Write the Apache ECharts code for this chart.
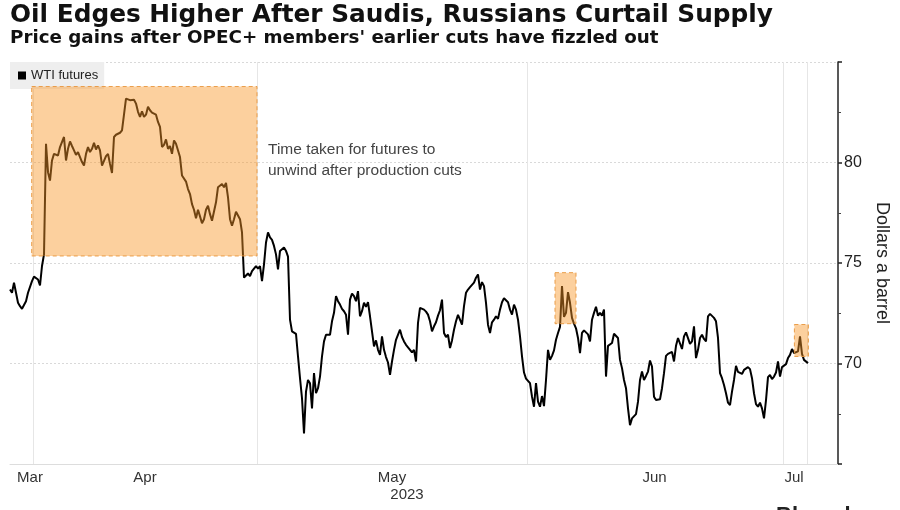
<!DOCTYPE html>
<html>
<head>
<meta charset="utf-8">
<script src="https://cdn.jsdelivr.net/npm/echarts@6.0.0/dist/echarts.min.js"></script>
<style>
html,body{margin:0;padding:0;background:#fff;}
#chart{width:900px;height:510px;}
</style>
</head>
<body>
<div id="chart"></div>
<script>
// WTI futures price, sampled at equal intraday steps (x = sample number)
const wtiPrice = [
  73.68,73.52,74.02,73.93,73.02,72.85,72.72,72.77,73.1,73.52,73.43,74.1,74.32,74.27,74.18,73.88,74.85,75.43,
  80.93,79.52,79.1,80.1,80.43,80.52,80.35,80.77,80.72,81.27,80.1,80.68,81.05,80.82,80.6,80.38,80.52,80.27,
  80.02,79.85,80.43,80.77,80.52,80.68,80.98,80.65,80.85,80.6,79.85,79.88,80.32,80.43,79.93,79.48,
  81.27,81.38,81.43,81.48,81.6,81.55,83.18,83.27,83.1,83.18,83.12,82.93,82.52,82.27,82.55,82.27,82.38,82.77,
  82.6,82.48,82.55,82.38,82.02,81.77,80.77,80.88,81.15,80.68,80.82,80.43,81.1,80.93,80.85,80.27,79.35,79.27,
  79.05,78.68,78.43,77.93,77.65,77.22,77.65,77.32,76.98,77.18,77.65,77.85,77.43,77.1,
  77.18,78.02,78.77,78.77,78.93,78.77,78.98,78.27,77.18,76.85,77.18,77.55,77.55,77.18,76.52,
  74.27,74.38,74.48,74.35,74.6,74.65,74.85,74.72,74.85,74.1,74.93,76.02,76.52,76.27,76.15,75.85,75.43,74.68,
  75.6,75.68,75.77,75.6,75.32,
  72.18,71.6,71.52,71.47,70.35,69.27,68.27,66.52,68.6,69.18,69.02,67.77,69.52,68.52,68.77,69.35,70.35,71.1,
  71.43,71.35,71.43,72.1,72.52,73.35,73.1,72.93,72.72,72.6,72.43,71.43,73.18,73.48,73.35,73.1,73.6,72.35,
  72.6,73.02,72.82,73.05,72.35,71.6,70.85,71.15,70.68,70.43,71.35,70.68,70.32,70.05,69.43,70.1,70.68,71.18,
  71.22,71.68,71.32,71.1,70.93,70.85,70.68,
  70.55,70.68,70.1,72.02,72.77,72.8,72.68,72.58,72.43,72.1,71.6,71.85,72.05,72.38,72.65,73.18,71.52,71.32,
  71.43,70.77,71.15,71.68,72.1,72.42,72.18,71.93,72.85,73.52,73.68,73.8,73.75,74.02,74.27,74.43,73.68,74.05,
  73.85,73.02,71.93,71.52,72.05,72.18,72.35,72.22,72.68,73.05,73.25,73.25,73.05,72.68,72.43,72.93,72.68,72.18,
  71.35,70.35,69.55,69.25,69.32,69.02,68.35,67.85,69.02,68.1,67.85,68.38,67.88,69.18,70.68,70.18,70.38,70.65,
  71.18,71.52,71.82,73.85,72.32,72.52,73.55,73.02,72.27,71.98,71.75,71.27,70.52,71.52,71.65,71.55,71.45,71.1,
  72.18,72.52,72.82,72.38,72.52,72.38,72.68,69.35,70.88,70.85,
  71.02,71.48,71.55,71.27,70.18,69.77,69.18,68.77,67.77,66.93,67.27,67.35,67.48,68.1,69.18,69.6,69.18,69.38,
  69.6,70.15,69.85,68.35,68.18,68.22,68.22,68.77,69.52,70.38,70.48,70.48,70.58,70.1,70.88,71.27,71.35,70.72,
  71.35,71.55,71.6,70.98,71.1,71.85,70.27,70.68,71.27,71.43,71.22,71.1,72.35,72.47,72.38,72.27,72.1,71.27,
  69.52,69.27,68.93,68.52,68.05,67.93,68.6,69.18,69.88,69.58,69.52,69.48,69.68,69.6,69.82,69.72,69.27,68.52,
  67.98,67.85,68.05,67.77,67.27,68.18,69.32,69.43,69.22,69.35,69.55,70.1,69.35,69.82,69.77,69.97,70.27,70.43,
  70.72,70.52,70.52,70.6,71.35,70.48,70.18,70.1,70.02
];

// x axis (in sample numbers)
const xMax = 414;
const monthStartAt = [11.5, 123.5, 258.5, 386.5, 398.5];
const monthLabelAt = [10, 67.5, 191, 322.25, 392];
const monthNames = ['Mar', 'Apr', 'May', 'Jun', 'Jul'];
const yearLabelMonth = 'May';
const yearText = '2023';

// y axis
const yMin = 65, yMax = 85, yStep = 5;

// shaded periods
const shadeFrom = [10.85, 272.5, 392.2];
const shadeTo   = [123.5, 283, 399.2];
const shadeLow  = [75.35, 71.98, 70.35];
const shadeHigh = [83.78, 74.52, 71.94];

const seriesName = 'WTI futures';
const titleText = 'Oil Edges Higher After Saudis, Russians Curtail Supply';
const subtitleText = "Price gains after OPEC+ members' earlier cuts have fizzled out";
const noteText = 'Time taken for futures to\nunwind after production cuts';
const yName = 'Dollars a barrel';

const chart = echarts.init(document.getElementById('chart'), null, {renderer: 'canvas'});
const sansFont = '"Liberation Sans", Arial, sans-serif';
const titleFont = '"DejaVu Sans", Verdana, sans-serif';

const option = {
  backgroundColor: '#ffffff',
  animation: false,
  title: [
    {text: titleText, left: 10, top: 3, padding: 0,
     textStyle: {fontFamily: titleFont, fontWeight: 'bold', fontSize: 24.8, color: '#111'}},
    {text: subtitleText, left: 10, top: 29, padding: 0,
     textStyle: {fontFamily: titleFont, fontWeight: 'bold', fontSize: 18.3, color: '#111'}}
  ],
  legend: {
    data: [seriesName], left: 10, top: 62, padding: [7, 6, 7, 8],
    backgroundColor: '#eeeeee', icon: 'rect', itemWidth: 8, itemHeight: 8,
    textStyle: {fontFamily: sansFont, fontSize: 13, color: '#222'},
    selectedMode: false
  },
  grid: {left: 10, right: 62, top: 62, bottom: 46, containLabel: false},
  xAxis: {
    type: 'value', min: 0, max: xMax,
    axisLine: {show: true, onZero: false, lineStyle: {color: '#dddddd', width: 1}},
    axisTick: {show: false, customValues: monthStartAt},
    splitLine: {show: true, lineStyle: {color: '#e6e6e6', width: 1}},
    axisLabel: {
      customValues: monthLabelAt, margin: 5,
      formatter: function (v) {
        const k = monthLabelAt.indexOf(v);
        const n = monthNames[k];
        return n === yearLabelMonth ? '{m|' + n + '}\n{y|' + yearText + '}' : '{m|' + n + '}';
      },
      rich: {
        m: {fontFamily: sansFont, fontSize: 15, color: '#333', lineHeight: 17},
        y: {fontFamily: sansFont, fontSize: 15, color: '#333', lineHeight: 17, padding: [0, 0, 0, 30]}
      }
    }
  },
  yAxis: {
    type: 'value', position: 'right', min: yMin, max: yMax, interval: yStep,
    axisLine: {show: true, onZero: false, lineStyle: {color: '#222', width: 1.5}},
    axisTick: {show: true, inside: false, length: 4, lineStyle: {color: '#222', width: 1.5}},
    minorTick: {show: true, splitNumber: 2, length: 3, lineStyle: {color: '#444', width: 1}},
    splitLine: {show: true, lineStyle: {color: '#d9d9d9', type: [2, 2], width: 1}},
    axisLabel: {
      margin: 6, fontFamily: sansFont, fontSize: 16, color: '#222',
      formatter: function (v) { return (v === yMin || v === yMax) ? '' : String(v); }
    },
    name: yName, nameLocation: 'middle', nameRotate: -90, nameGap: 19,
    nameTextStyle: {fontFamily: sansFont, fontSize: 18, color: '#222'}
  },
  graphic: [
    {type: 'text', left: 268, top: 139,
     style: {text: noteText, fontFamily: sansFont, fontSize: 15.5, lineHeight: 21, fill: '#444'}},
    {type: 'text', left: 776, top: 505,
     style: {text: 'Bloomberg', fontFamily: sansFont, fontWeight: 'bold', fontSize: 22, fill: '#222'}}
  ],
  series: [
    {
      name: seriesName, type: 'line', showSymbol: false, symbol: 'none', z: 2,
      data: wtiPrice.map(function (p, i) { return [i, p]; }),
      lineStyle: {color: '#000', width: 2},
      itemStyle: {color: '#000'},
      markArea: {
        silent: true, z: 5,
        itemStyle: {color: 'rgba(248,150,40,0.45)', borderColor: 'rgba(232,150,60,0.9)', borderWidth: 1, borderType: [4, 3]},
        data: shadeFrom.map(function (f, k) {
          return [{xAxis: f, yAxis: shadeHigh[k]}, {xAxis: shadeTo[k], yAxis: shadeLow[k]}];
        })
      }
    }
  ]
};
chart.setOption(option);
</script>
</body>
</html>
